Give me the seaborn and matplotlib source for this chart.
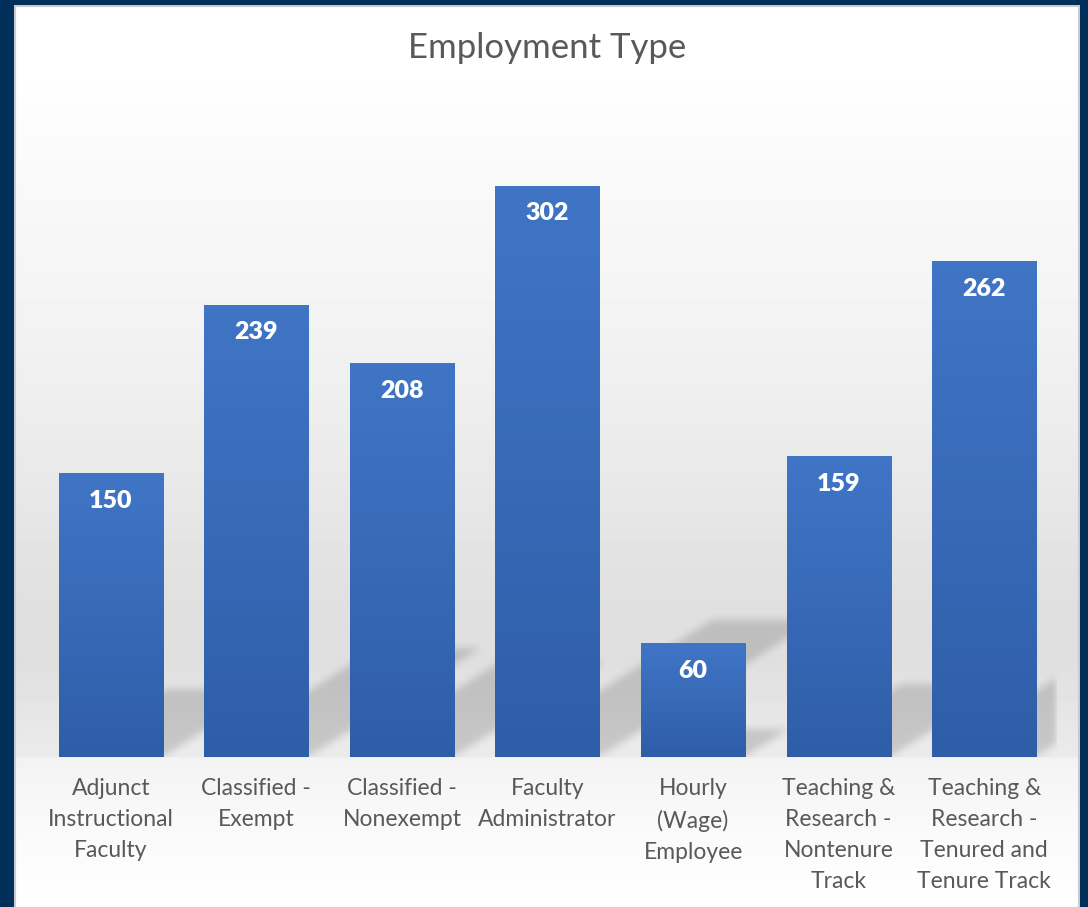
import numpy as np
import pandas as pd
import matplotlib
matplotlib.use("Agg")
import matplotlib.pyplot as plt
import seaborn as sns

categories = [
    "Adjunct\nInstructional\nFaculty",
    "Classified -\nExempt",
    "Classified -\nNonexempt",
    "Faculty\nAdministrator",
    "Hourly\n(Wage)\nEmployee",
    "Teaching &\nResearch -\nNontenure\nTrack",
    "Teaching &\nResearch -\nTenured and\nTenure Track",
]
values = [150, 239, 208, 302, 60, 159, 262]
title = "Employment Type"

sns.set_theme(style="white")
plt.rcParams["font.family"] = ["Lato", "DejaVu Sans"]

W, H = 1088, 907
fig = plt.figure(figsize=(W / 100, H / 100), dpi=100)
fig.patch.set_facecolor("#00305a")

# panel background with vertical gradient
panel_l, panel_r, panel_t = 14, 1080, 5
bg = fig.add_axes([panel_l / W, 0, (panel_r - panel_l) / W, (H - panel_t) / H])
rows = np.arange(panel_t, H)
kp_y = [5, 80, 200, 300, 400, 500, 600, 660, 756, 758, 820, 907]
kp_g = [255, 254, 248, 244, 238, 231, 224, 223, 235, 243, 249, 255]
g = np.interp(rows, kp_y, kp_g) / 255.0
grad = np.repeat(g[:, None], 2, axis=1)
bg.imshow(grad, cmap="gray", vmin=0, vmax=1, aspect="auto", extent=[0, 1, 0, 1])
bg.set_axis_off()
bg.plot([0.001, 0.001, 0.999, 0.999], [0, 0.999, 0.999, 0], color="#c8ccd2",
        linewidth=1.5, transform=bg.transAxes, solid_joinstyle="miter")
bg.set_xlim(0, 1)
bg.set_ylim(0, 1)

# main axes
base_px = 757
px_per_unit = 1.892
ymax = 350
ax_l, ax_r = 38, 1057
ax_h = ymax * px_per_unit
ax = fig.add_axes([ax_l / W, (H - base_px) / H, (ax_r - ax_l) / W, ax_h / H])
ax.patch.set_alpha(0)

df = pd.DataFrame({"cat": categories, "val": values})
bar_w = 0.715
sns.barplot(data=df, x="cat", y="val", color="#3a6bbd", width=bar_w,
            saturation=1, linewidth=0, ax=ax, zorder=3)
ax.set_ylim(0, ymax)
ax.set_xlim(-0.5, len(values) - 0.5)

# shadows (perspective, derived from values)
nx, ny = 1019, int(ax_h)
xs = np.linspace(-0.5, len(values) - 0.5, nx)
ys = np.linspace(0, ymax, ny)
XX, YY = np.meshgrid(xs, ys)
mask = np.zeros_like(XX)
for i, v in enumerate(values):
    h = 0.24 * v
    dx = 0.00495 * v
    x0, x1 = i - bar_w / 2, i + bar_w / 2
    shift = YY / h * dx
    inside = (YY <= h) & (XX >= x0 + shift) & (XX <= x1 + shift)
    mask = np.maximum(mask, inside.astype(float))
k = 9
kern = np.ones(k) / k
for _ in range(2):
    mask = np.apply_along_axis(lambda r: np.convolve(r, kern, mode="same"), 1, mask)
    mask = np.apply_along_axis(lambda c: np.convolve(c, kern, mode="same"), 0, mask)
rgba = np.zeros((ny, nx, 4))
rgba[..., 3] = mask * 0.15
ax.imshow(rgba, extent=[-0.5, len(values) - 0.5, 0, ymax], origin="lower",
          aspect="auto", zorder=1, interpolation="bilinear")

# bar gradients
top_c = np.array([0x40, 0x75, 0xc6]) / 255
bot_c = np.array([0x2f, 0x5e, 0xa8]) / 255
t = np.linspace(0, 1, 100)[:, None]
gimg = (bot_c[None, :] * (1 - t) + top_c[None, :] * t)[:, None, :]
for p in ax.patches:
    x0, y0 = p.get_x(), p.get_y()
    w, hh = p.get_width(), p.get_height()
    im = ax.imshow(gimg, extent=[x0, x0 + w, y0, y0 + hh], origin="lower",
                   aspect="auto", zorder=4)
    im.set_clip_path(p)

ax.set_xlim(-0.5, len(values) - 0.5)
ax.set_ylim(0, ymax)

for i, v in enumerate(values):
    ax.text(i, v - 14.5, f"{v}", ha="center", va="center", color="white",
            fontsize=18, fontweight="heavy", zorder=6)

ax.set_xlabel("")
ax.set_ylabel("")
ax.set_yticks([])
ax.tick_params(axis="x", length=0, pad=15, labelsize=16.5, labelcolor="#595959")
for lab in ax.get_xticklabels():
    lab.set_linespacing(1.6)
    lab.set_verticalalignment("top")
for s in ax.spines.values():
    s.set_visible(False)

fig.text((panel_l + panel_r) / 2 / W, 1 - 48 / H, title, ha="center", va="center",
         fontsize=25, color="#595959")

fig.savefig("out.png", dpi=100, facecolor=fig.get_facecolor())
